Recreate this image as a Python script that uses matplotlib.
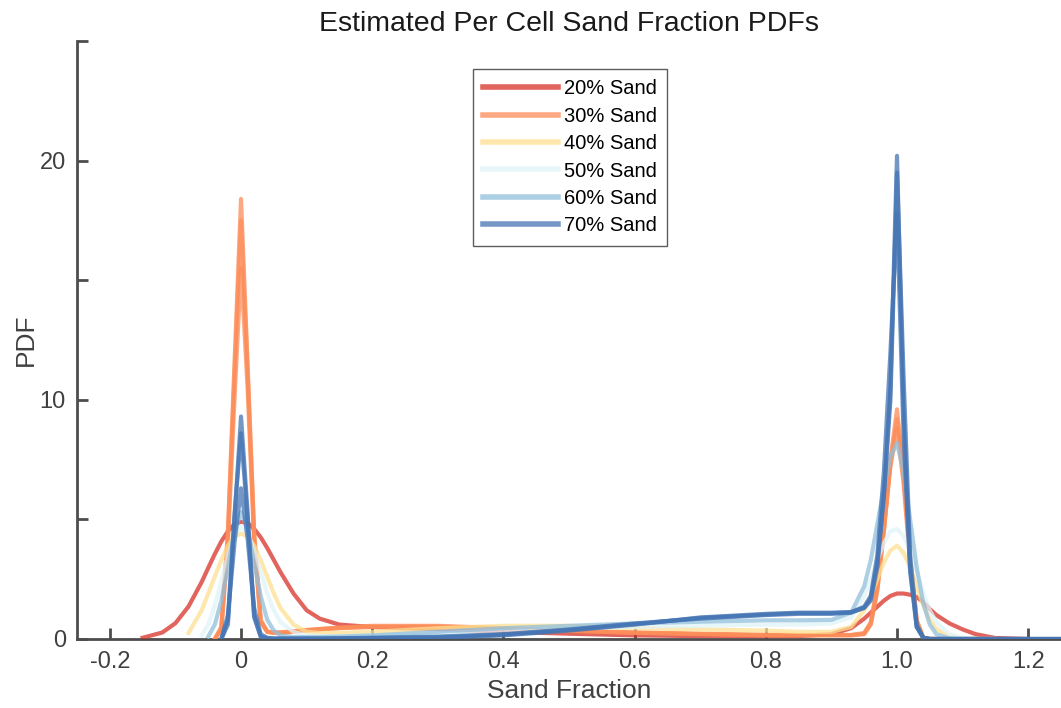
import numpy as np
import matplotlib
matplotlib.use('Agg')
import matplotlib.pyplot as plt

plt.rcParams['font.family'] = ['Liberation Sans', 'DejaVu Sans']

nan = np.nan

# sample positions (sand fraction) shared by every curve
x_grid = [-0.15, -0.12, -0.10, -0.08, -0.06, -0.05, -0.04, -0.03, -0.02, -0.01,
          0.00, 0.01, 0.02, 0.03, 0.04, 0.05, 0.06, 0.08, 0.10, 0.12, 0.15,
          0.20, 0.30, 0.40, 0.50, 0.60, 0.70, 0.80, 0.85, 0.90, 0.93,
          0.95, 0.96, 0.97, 0.98, 0.99, 1.00, 1.01, 1.02, 1.03, 1.04,
          1.05, 1.06, 1.08, 1.10, 1.12, 1.15, 1.20, 1.25]

sand20 = [0.05, 0.27, 0.66, 1.36, 2.38, 2.97, 3.55, 4.08, 4.50, 4.80,
          4.90, 4.85, 4.60, 4.25, 3.80, 3.30, 2.80, 1.90, 1.20, 0.85, 0.60,
          0.50, 0.40, 0.30, 0.22, 0.15, 0.12, 0.12, 0.12, 0.20, 0.45,
          0.85, 1.10, 1.35, 1.60, 1.80, 1.90, 1.90, 1.85, 1.75, 1.55,
          1.25, 1.00, 0.65, 0.40, 0.20, 0.04, 0.00, nan]

sand30_a = [nan, nan, nan, nan, nan, nan, 0.00, 0.50, 4.50, 11.5,
            18.4, 11.5, 4.50, 0.80, 0.30, 0.25, 0.25, 0.30, 0.35, 0.40, 0.45,
            0.50, 0.50, 0.45, 0.35, 0.25, 0.20, 0.15, 0.15, 0.15, 0.15,
            0.20, 0.60, 2.00, 4.50, 7.50, 9.60, 7.00, 3.50, 0.80, 0.05,
            0.00, 0.00, 0.00, 0.00, 0.00, nan, nan, nan]
sand30_b = [nan, nan, nan, nan, nan, nan, 0.00, 0.40, 4.00, 10.0,
            15.5, 10.5, 4.00, 0.70, 0.30, 0.28, 0.28, 0.32, 0.38, 0.42, 0.48,
            0.55, 0.55, 0.45, 0.35, 0.28, 0.22, 0.18, 0.17, 0.17, 0.17,
            0.25, 0.70, 2.20, 4.60, 7.20, 8.80, 6.50, 3.20, 0.70, 0.05,
            0.00, 0.00, 0.00, 0.00, 0.00, nan, nan, nan]
sand30_c = [nan, nan, nan, nan, nan, nan, 0.00, 0.45, 4.30, 11.0,
            17.5, 11.2, 4.30, 0.75, 0.30, 0.26, 0.26, 0.31, 0.36, 0.41, 0.46,
            0.52, 0.52, 0.44, 0.34, 0.26, 0.21, 0.16, 0.16, 0.16, 0.16,
            0.22, 0.65, 2.10, 4.60, 7.40, 9.20, 6.80, 3.40, 0.75, 0.05,
            0.00, 0.00, 0.00, 0.00, 0.00, nan, nan, nan]

sand40 = [nan, nan, nan, 0.25, 1.20, 1.90, 2.60, 3.30, 3.90, 4.30,
          4.40, 4.30, 3.90, 3.30, 2.60, 1.90, 1.30, 0.60, 0.30, 0.25, 0.25,
          0.30, 0.45, 0.55, 0.55, 0.45, 0.40, 0.35, 0.30, 0.30, 0.50,
          1.20, 1.80, 2.50, 3.20, 3.70, 3.90, 3.60, 3.00, 2.20, 1.40,
          0.80, 0.40, 0.10, 0.02, 0.00, 0.00, nan, nan]

sand50 = [nan, nan, nan, nan, 0.15, 0.60, 1.40, 2.40, 3.50, 4.30,
          4.70, 4.40, 3.70, 2.80, 1.90, 1.20, 0.70, 0.30, 0.15, 0.12, 0.12,
          0.15, 0.25, 0.35, 0.45, 0.50, 0.55, 0.60, 0.60, 0.65, 0.90,
          1.80, 2.50, 3.30, 4.00, 4.50, 4.60, 4.30, 3.70, 2.80, 1.90,
          1.20, 0.70, 0.20, 0.05, 0.00, 0.00, nan, nan]

sand60 = [nan, nan, nan, nan, nan, 0.10, 0.60, 1.60, 3.00, 4.50,
          5.30, 4.60, 3.20, 1.80, 0.80, 0.35, 0.15, 0.08, 0.08, 0.08, 0.10,
          0.15, 0.30, 0.45, 0.55, 0.65, 0.72, 0.78, 0.78, 0.80, 1.10,
          2.20, 3.30, 4.80, 6.30, 7.60, 8.20, 7.00, 5.00, 3.00, 1.50,
          0.60, 0.20, 0.02, 0.00, 0.00, 0.00, nan, nan]

sand70_a = [nan, nan, nan, nan, nan, nan, nan, 0.00, 0.60, 5.00,
            9.30, 5.30, 1.00, 0.10, 0.02, 0.01, 0.01, 0.01, 0.01, 0.01, 0.02,
            0.03, 0.05, 0.15, 0.35, 0.60, 0.90, 1.05, 1.10, 1.10, 1.12,
            1.30, 1.60, 3.00, 6.00, 10.5, 20.2, 9.50, 3.00, 0.50, 0.05,
            0.00, 0.00, 0.00, 0.00, 0.00, 0.00, 0.00, 0.00]
sand70_b = [nan, nan, nan, nan, nan, nan, nan, 0.00, 1.00, 4.00,
            6.30, 4.20, 1.30, 0.20, 0.05, 0.02, 0.02, 0.02, 0.02, 0.02, 0.03,
            0.05, 0.10, 0.20, 0.40, 0.65, 0.85, 1.00, 1.05, 1.05, 1.10,
            1.30, 1.70, 3.20, 6.00, 10.0, 19.5, 11.0, 3.50, 0.60, 0.05,
            0.00, 0.00, 0.00, 0.00, 0.00, 0.00, 0.00, 0.00]
sand70_c = [nan, nan, nan, nan, nan, nan, nan, 0.00, 0.80, 5.20,
            8.60, 5.00, 0.90, 0.10, 0.02, 0.01, 0.01, 0.01, 0.01, 0.01, 0.02,
            0.04, 0.07, 0.18, 0.38, 0.62, 0.88, 1.02, 1.08, 1.08, 1.12,
            1.35, 1.80, 3.50, 7.00, 12.0, 17.8, 8.50, 2.80, 0.50, 0.05,
            0.00, 0.00, 0.00, 0.00, 0.00, 0.00, 0.00, 0.00]

labels = ['20% Sand', '30% Sand', '40% Sand', '50% Sand', '60% Sand', '70% Sand']
colors = ['#d73027', '#fc8d59', '#fee090', '#e0f3f8', '#91bfdb', '#4575b4']
curves = [[sand20], [sand30_a, sand30_b, sand30_c], [sand40], [sand50],
          [sand60], [sand70_a, sand70_b, sand70_c]]

x_ticks = [-0.2, 0, 0.2, 0.4, 0.6, 0.8, 1.0, 1.2]
x_ticklabels = ['-0.2', '0', '0.2', '0.4', '0.6', '0.8', '1.0', '1.2']
y_ticks = [0, 5, 10, 15, 20, 25]
y_ticklabels = ['0', '', '10', '', '20', '']

fig = plt.figure(figsize=(10.61, 7.08), dpi=100)
ax = fig.add_axes([0.0726, 0.0975, 0.9274, 0.8446])

handles = []
for lab, col, runs in zip(labels, colors, curves):
    for i, y in enumerate(runs):
        ln, = ax.plot(x_grid, y, color=col, lw=3, alpha=0.75,
                      solid_joinstyle='round', zorder=3)
        if i == 0:
            handles.append(ln)

ax.set_xlim(-0.25, 1.25)
ax.set_ylim(0, 25)
ax.set_xticks(x_ticks)
ax.set_xticklabels(x_ticklabels)
ax.set_yticks(y_ticks)
ax.set_yticklabels(y_ticklabels)

axis_col = '#4d4d4d'
for side in ['top', 'right']:
    ax.spines[side].set_visible(False)
for side in ['left', 'bottom']:
    ax.spines[side].set_color(axis_col)
    ax.spines[side].set_linewidth(2)
ax.tick_params(direction='in', length=8, width=2, color=axis_col,
               labelcolor='#404040', labelsize=17)
ax.tick_params(axis='x', pad=9)
ax.tick_params(axis='y', pad=8)

ax.set_xlabel('Sand Fraction', fontsize=19, color='#404040', labelpad=4)
ax.set_ylabel('PDF', fontsize=19, color='#404040', labelpad=1)
ax.set_title('Estimated Per Cell Sand Fraction PDFs', fontsize=20.5,
             color='#1a1a1a', pad=7)

leg = ax.legend(handles, labels, loc='upper center',
                bbox_to_anchor=(0.501, 0.953), borderaxespad=0,
                fontsize=14.5, frameon=True, fancybox=False,
                handlelength=3.7, handletextpad=0.3, labelspacing=0.42,
                borderpad=0.5)
leg.get_frame().set_edgecolor('#333333')
leg.get_frame().set_linewidth(1)
for h in leg.get_lines():
    h.set_linewidth(4)
    h.set_alpha(0.75)

fig.savefig('out.png', dpi=100)
